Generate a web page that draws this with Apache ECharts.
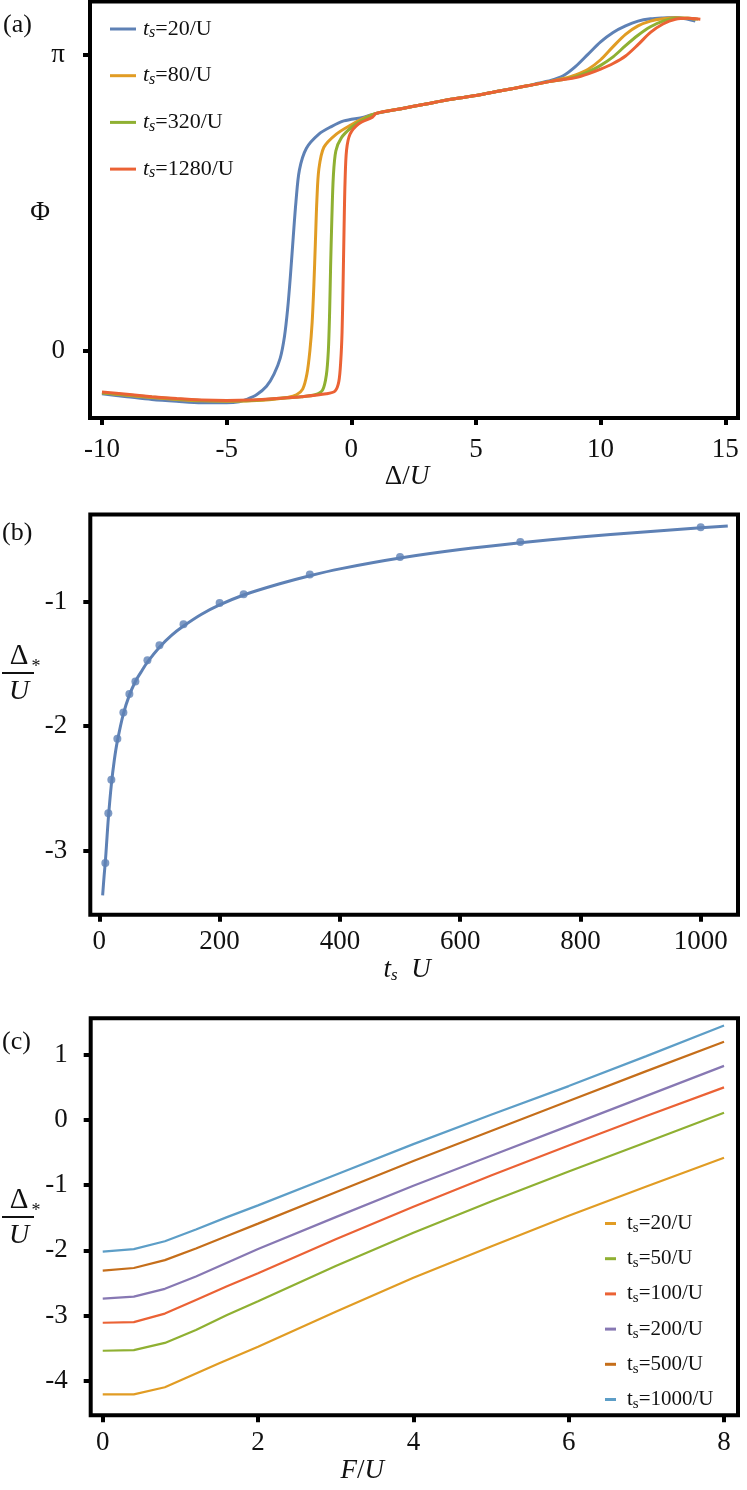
<!DOCTYPE html>
<html>
<head>
<meta charset="utf-8">
<script src="https://cdn.jsdelivr.net/npm/echarts@6/dist/echarts.min.js"></script>
<style>
  html, body { margin: 0; padding: 0; background: #fff; }
  #main { width: 747px; height: 1490px; }
</style>
</head>
<body>
<div id="main"></div>
<script>
// ---- panel (a): phase vs detuning ----
const tsA = ['20/U', '80/U', '320/U', '1280/U'];
const phi20 = [[-10,-0.46],[-9,-0.49],[-8,-0.52],[-7,-0.54],[-6,-0.555],[-5,-0.555],[-4.5,-0.545],[-4.2,-0.52],[-3.8,-0.47],
  [-3.4,-0.38],[-3.1,-0.25],[-2.85,-0.08],[-2.68,0.15],[-2.55,0.45],[-2.44,0.8],[-2.33,1.2],[-2.22,1.58],[-2.08,1.92],
  [-1.8,2.15],[-1.3,2.3],[-0.8,2.38],[-0.3,2.44],[0.5,2.48],[1,2.52],[2,2.57],[3,2.62],[4,2.67],[5,2.71],[6,2.76],
  [7,2.81],[7.5,2.84],[8,2.87],[8.5,2.92],[9,3.02],[9.5,3.15],[10,3.28],[10.5,3.38],[11,3.45],[11.5,3.5],[12,3.525],
  [12.5,3.535],[13,3.54],[13.5,3.52],[13.8,3.5]];
const phi80 = [[-10,-0.45],[-9,-0.475],[-8,-0.5],[-7,-0.52],[-6,-0.535],[-5,-0.54],[-4,-0.535],[-3,-0.515],[-2.6,-0.5],
  [-2.2,-0.47],[-1.95,-0.41],[-1.78,-0.25],[-1.66,0.0],[-1.57,0.3],[-1.5,0.7],[-1.44,1.15],[-1.38,1.6],[-1.3,1.93],
  [-1.1,2.16],[-0.6,2.3],[0,2.4],[0.5,2.47],[1,2.52],[2,2.57],[3,2.62],[4,2.67],[5,2.71],[6,2.76],[7,2.81],[8,2.86],
  [8.5,2.89],[9,2.93],[9.5,2.99],[10,3.09],[10.5,3.23],[11,3.36],[11.5,3.45],[12,3.5],[12.5,3.525],[13,3.535],
  [13.5,3.53],[13.8,3.52]];
const phi320 = [[-10,-0.45],[-9,-0.47],[-8,-0.495],[-7,-0.515],[-6,-0.53],[-5,-0.535],[-4,-0.53],[-3,-0.51],[-2,-0.49],
  [-1.45,-0.47],[-1.15,-0.42],[-1.0,-0.26],[-0.92,0.0],[-0.87,0.4],[-0.83,0.89],[-0.78,1.4],[-0.72,1.85],[-0.62,2.12],
  [-0.4,2.26],[0,2.37],[0.5,2.46],[1,2.52],[2,2.57],[3,2.62],[4,2.67],[5,2.71],[6,2.76],[7,2.81],[8,2.86],[8.5,2.88],
  [9,2.91],[9.5,2.96],[10,3.03],[10.5,3.12],[11,3.24],[11.5,3.35],[12,3.44],[12.5,3.5],[13,3.53],[13.5,3.53],[13.9,3.52]];
const phi1280 = [[-10,-0.44],[-9,-0.465],[-8,-0.49],[-7,-0.51],[-6,-0.525],[-5,-0.53],[-4,-0.525],[-3,-0.51],[-2,-0.49],
  [-1,-0.46],[-0.65,-0.43],[-0.5,-0.33],[-0.42,-0.1],[-0.37,0.2],[-0.33,0.7],[-0.29,1.3],[-0.25,1.8],[-0.19,2.13],
  [-0.05,2.3],[0.3,2.41],[0.85,2.48],[1,2.52],[2,2.57],[3,2.62],[4,2.67],[5,2.71],[6,2.76],[7,2.81],[8,2.86],[8.5,2.88],
  [9,2.9],[9.5,2.94],[10,2.99],[10.5,3.05],[11,3.13],[11.5,3.25],[12,3.38],[12.5,3.47],[13,3.52],[13.5,3.53],[14,3.52]];
const phiTicks = [0, Math.PI];
const phiTickLabels = ['0', 'π'];
const detTicks = [-10, -5, 0, 5, 10, 15];

// ---- panel (b): critical detuning vs sweep time ----
const sweepPtsX = [10, 15, 20, 30, 40, 50, 60, 80, 100, 140, 200, 240, 350, 500, 700, 1000];
const sweepPtsY = [-3.1, -2.7, -2.43, -2.1, -1.89, -1.74, -1.64, -1.47, -1.35, -1.18, -1.01, -0.94, -0.78, -0.64, -0.52, -0.40];
const fitX = [5.5, 8, 10, 12, 15, 20, 25, 30, 40, 50, 60, 70, 80, 100, 120, 140, 170, 200, 240, 300, 350, 400, 500, 600, 700, 800, 900, 1000, 1045];
const fitY = [-3.36, -3.2, -3.09, -2.95, -2.74, -2.47, -2.27, -2.12, -1.9, -1.75, -1.64, -1.56, -1.485, -1.365, -1.27, -1.195,
  -1.1, -1.025, -0.945, -0.855, -0.79, -0.735, -0.648, -0.58, -0.525, -0.478, -0.44, -0.405, -0.39];
const tsTicks = [0, 200, 400, 600, 800, 1000];
const dStarTicksB = [-3, -2, -1];

// ---- panel (c): critical detuning vs F ----
const tsC = ['20/U', '50/U', '100/U', '200/U', '500/U', '1000/U'];
const fVals = [0, 0.4, 0.8, 1.2, 1.6, 2, 3, 4, 5, 6, 7, 8];
const fVals20 = [0, 0.4, 0.8, 1.5, 2, 3, 4, 5, 6, 7, 8];
const dT20 = [-4.21, -4.21, -4.10, -3.73, -3.48, -2.94, -2.42, -1.94, -1.47, -1.02, -0.58];
const dT50 = [-3.54, -3.53, -3.42, -3.22, -2.99, -2.78, -2.24, -1.73, -1.25, -0.79, -0.34, 0.11];
const dT100 = [-3.11, -3.10, -2.97, -2.76, -2.55, -2.35, -1.83, -1.33, -0.85, -0.39, 0.06, 0.50];
const dT200 = [-2.74, -2.71, -2.59, -2.40, -2.19, -1.98, -1.49, -1.01, -0.55, -0.09, 0.37, 0.83];
const dT500 = [-2.31, -2.27, -2.15, -1.97, -1.78, -1.59, -1.11, -0.63, -0.17, 0.29, 0.75, 1.20];
const dT1000 = [-2.02, -1.98, -1.86, -1.68, -1.49, -1.31, -0.84, -0.37, 0.08, 0.52, 0.98, 1.45];
const fTicks = [0, 2, 4, 6, 8];
const dStarTicksC = [-4, -3, -2, -1, 0, 1];

const colA = ['#5E81B5', '#E19C24', '#8FB032', '#EB6235'];
const colC = ['#E19C24', '#8FB032', '#EB6235', '#8778B3', '#C56E1A', '#5D9EC7'];

const serif = '"Liberation Serif", "DejaVu Serif", serif';
const zip = (xs, ys) => xs.map((x, i) => [x, ys[i]]);

const chart = echarts.init(document.getElementById('main'));

function xAxisOf(idx, min, max, ticks, margin, name, gap, pad) {
  return {
    type: 'value', gridIndex: idx, min: min, max: max,
    axisLine: { show: false, onZero: false },
    splitLine: { show: false },
    axisTick: { show: true, length: 7, lineStyle: { color: '#000', width: 4 }, customValues: ticks },
    axisLabel: { customValues: ticks, margin: margin, color: '#111', fontFamily: serif, fontSize: 27, formatter: v => String(v) },
    name: name, nameLocation: 'middle', nameGap: gap,
    nameTextStyle: {
      color: '#111', padding: pad,
      rich: {
        r: { fontFamily: serif, fontSize: 27, color: '#111' },
        i: { fontFamily: serif, fontSize: 27, fontStyle: 'italic', color: '#111' },
        s: { fontFamily: serif, fontSize: 17, fontStyle: 'italic', color: '#111', verticalAlign: 'bottom', lineHeight: 8 }
      }
    }
  };
}
function yAxisOf(idx, min, max, ticks, margin, fmt) {
  return {
    type: 'value', gridIndex: idx, min: min, max: max,
    axisLine: { show: false, onZero: false },
    splitLine: { show: false },
    axisTick: { show: true, length: 7, lineStyle: { color: '#000', width: 4 }, customValues: ticks },
    axisLabel: { customValues: ticks, margin: margin, color: '#111', fontFamily: serif, fontSize: 27, formatter: fmt }
  };
}

const richLegendA = {
  t: { fontFamily: serif, fontSize: 22, fontStyle: 'italic', lineHeight: 24, verticalAlign: 'middle', color: '#111', padding: [0, 0, 0, 2] },
  s: { fontFamily: serif, fontSize: 16, fontStyle: 'italic', lineHeight: 4, verticalAlign: 'bottom', color: '#111' },
  r: { fontFamily: serif, fontSize: 22, lineHeight: 24, verticalAlign: 'middle', color: '#111' }
};
const richLegendC = {
  t: { fontFamily: serif, fontSize: 21, lineHeight: 24, verticalAlign: 'middle', color: '#111', padding: [0, 0, 0, 6] },
  s: { fontFamily: serif, fontSize: 15, lineHeight: 5, verticalAlign: 'bottom', color: '#111' },
  r: { fontFamily: serif, fontSize: 21, lineHeight: 24, verticalAlign: 'middle', color: '#111' }
};

const phiSets = [phi20, phi80, phi320, phi1280];
const cSets = [zip(fVals20, dT20), zip(fVals, dT50), zip(fVals, dT100), zip(fVals, dT200), zip(fVals, dT500), zip(fVals, dT1000)];

const series = [];
phiSets.forEach((d, i) => {
  series.push({
    name: 'A:' + tsA[i], type: 'line', xAxisIndex: 0, yAxisIndex: 0, data: d,
    showSymbol: false, symbol: 'none', smooth: 0.3,
    lineStyle: { width: 3, color: colA[i] }, itemStyle: { color: colA[i] }
  });
});
series.push({
  name: 'fit', type: 'line', xAxisIndex: 1, yAxisIndex: 1, data: zip(fitX, fitY),
  showSymbol: false, symbol: 'none', smooth: 0.3,
  lineStyle: { width: 3, color: colA[0] }
});
series.push({
  name: 'pts', type: 'scatter', xAxisIndex: 1, yAxisIndex: 1, data: zip(sweepPtsX, sweepPtsY),
  symbolSize: 8, itemStyle: { color: colA[0] }
});
cSets.forEach((d, i) => {
  series.push({
    name: 'C:' + tsC[i], type: 'line', xAxisIndex: 2, yAxisIndex: 2, data: d,
    showSymbol: false, symbol: 'none',
    lineStyle: { width: 2.2, color: colC[i] }, itemStyle: { color: colC[i] }
  });
});

const gridStyle = { show: true, borderColor: '#000', borderWidth: 4, backgroundColor: 'transparent' };

chart.setOption({
  animation: false,
  backgroundColor: '#fff',
  grid: [
    Object.assign({ left: 90, top: 1.5, width: 648, height: 416.5 }, gridStyle),
    Object.assign({ left: 90.3, top: 514.5, width: 647.7, height: 400.2 }, gridStyle),
    Object.assign({ left: 90.7, top: 1018.3, width: 647.3, height: 397 }, gridStyle)
  ],
  xAxis: [
    xAxisOf(0, -10.48, 15.51, detTicks, 18, '{r|Δ/}{i|U}', 41, [0, 14, 0, 0]),
    xAxisOf(1, -15, 1062, tsTicks, 14, '{i|t}{s|s}{r|  }{i|U}', 39, [0, 14, 0, 0]),
    xAxisOf(2, -0.155, 8.18, fTicks, 14, '{i|F}{r|/}{i|U}', 41, [0, 104, 0, 0])
  ],
  yAxis: [
    yAxisOf(0, -0.717, 3.709, phiTicks, 25, v => phiTickLabels[phiTicks.findIndex(t => Math.abs(t - v) < 1e-6)]),
    yAxisOf(1, -3.515, -0.298, dStarTicksB, 23, v => String(Math.round(v))),
    yAxisOf(2, -4.53, 1.56, dStarTicksC, 23, v => String(Math.round(v)))
  ],
  legend: [
    {
      data: tsA.map(n => 'A:' + n), orient: 'vertical', left: 105, top: 13,
      itemWidth: 26, itemHeight: 3, itemGap: 23.7, icon: 'rect', selectedMode: false,
      formatter: n => '{t|t}{s|s}{r|=' + n.split(':')[1] + '}',
      textStyle: { rich: richLegendA }
    },
    {
      data: tsC.map(n => 'C:' + n), orient: 'vertical', left: 600, top: 1208,
      itemWidth: 11, itemHeight: 3, itemGap: 12.7, icon: 'rect', selectedMode: false,
      formatter: n => '{t|t}{s|s}{r|=' + n.split(':')[1] + '}',
      textStyle: { rich: richLegendC }
    }
  ],
  graphic: [
    { type: 'text', left: 3, top: 12, style: { text: '(a)', font: '26px ' + serif, fill: '#111' } },
    { type: 'text', left: 2, top: 520, style: { text: '(b)', font: '26px ' + serif, fill: '#111' } },
    { type: 'text', left: 2, top: 1029, style: { text: '(c)', font: '26px ' + serif, fill: '#111' } },
    { type: 'text', x: 40, y: 213, style: { text: 'Φ', font: '27px ' + serif, fill: '#111', align: 'center', verticalAlign: 'middle' } },
    // fraction label for panel (b)
    { type: 'text', x: 19, y: 656, style: { text: 'Δ', font: '29px ' + serif, fill: '#111', align: 'center', verticalAlign: 'middle' } },
    { type: 'text', x: 36, y: 667, style: { text: '*', font: '18px ' + serif, fill: '#111', align: 'center', verticalAlign: 'middle' } },
    { type: 'line', shape: { x1: 2, y1: 673, x2: 34, y2: 673 }, style: { stroke: '#111', lineWidth: 2 } },
    { type: 'text', x: 19, y: 692, style: { text: 'U', font: 'italic 28px ' + serif, fill: '#111', align: 'center', verticalAlign: 'middle' } },
    // fraction label for panel (c)
    { type: 'text', x: 19, y: 1200, style: { text: 'Δ', font: '29px ' + serif, fill: '#111', align: 'center', verticalAlign: 'middle' } },
    { type: 'text', x: 36, y: 1211, style: { text: '*', font: '18px ' + serif, fill: '#111', align: 'center', verticalAlign: 'middle' } },
    { type: 'line', shape: { x1: 2, y1: 1217, x2: 34, y2: 1217 }, style: { stroke: '#111', lineWidth: 2 } },
    { type: 'text', x: 19, y: 1236, style: { text: 'U', font: 'italic 28px ' + serif, fill: '#111', align: 'center', verticalAlign: 'middle' } }
  ],
  series: series
});
</script>
</body>
</html>
